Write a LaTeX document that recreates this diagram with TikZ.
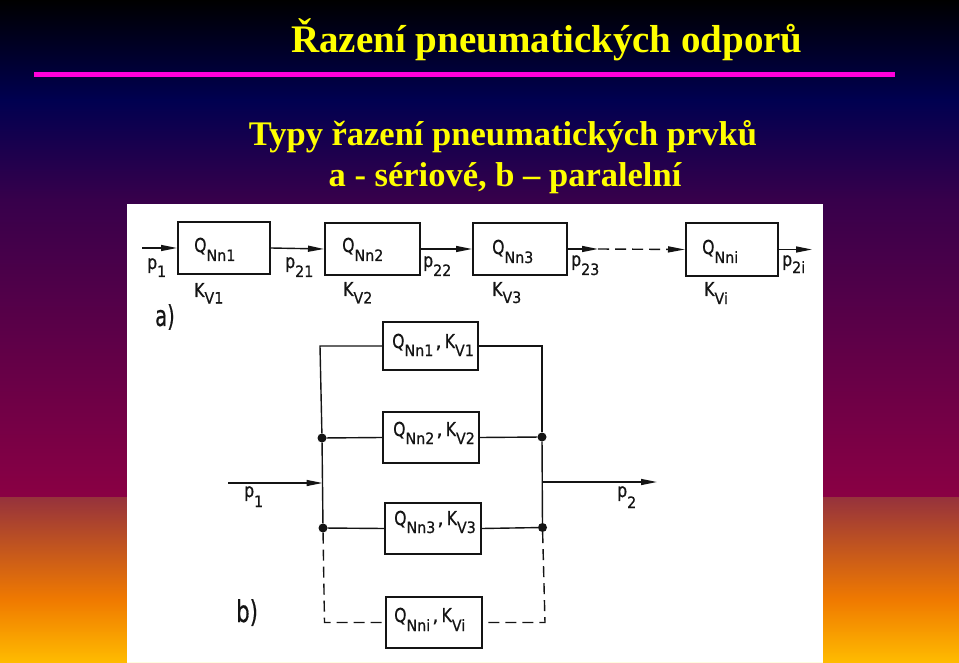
\documentclass[tikz,border=0pt]{standalone}
\usepackage{fontspec}
\usepackage{graphicx}
\setmainfont{Liberation Serif}
\newfontfamily\letterfont[RawFeature={embolden=0.6}]{DejaVu Sans}
\usetikzlibrary{arrows.meta}
\definecolor{inkc}{RGB}{20,20,20}
\definecolor{bgnavy}{RGB}{0,0,80}
\definecolor{bgpurple}{RGB}{55,0,75}
\definecolor{bgcrimson}{RGB}{138,0,68}
\definecolor{bgrust}{RGB}{150,50,60}
\definecolor{bgorange}{RGB}{240,122,0}
\definecolor{bgyellow}{RGB}{255,188,0}
\definecolor{titley}{RGB}{255,255,0}
\definecolor{rulem}{RGB}{255,0,220}
\newcommand{\sy}[3]{\scalebox{.98}[1.2]{\fontsize{16}{16}\selectfont #1}\raisebox{-#3pt}{\scalebox{1.02}[1.12]{\fontsize{14}{14}\selectfont #2}}}
\newcommand{\cm}{\kern2pt{\fontsize{20}{20}\selectfont,}\kern3pt}
\tikzset{
  unitbox/.style={draw=inkc,line width=2pt,fill=white,inner sep=0pt,minimum width=#1},
  unitbox/.default=94pt,
  wire/.style={draw=inkc,line width=1.4pt},
  flow/.style={wire,-{Triangle[length=16pt,width=6pt]}},
  brokenwire/.style={draw=inkc,line width=1.4pt,dash pattern=on 11pt off 6pt},
  junction/.style={circle,fill=inkc,inner sep=0pt,minimum size=9pt},
  lettering/.style={inner sep=0pt,anchor=base west,text=inkc,font=\letterfont},
  bigletter/.style={lettering,font=\letterfont\fontsize{25}{25}\selectfont},
  headline/.style={inner sep=0pt,anchor=base,text=titley,font=\bfseries\fontsize{39}{39}\selectfont},
  subline/.style={inner sep=0pt,anchor=base,text=titley,font=\bfseries\fontsize{34.5}{34.5}\selectfont}
}
\begin{document}
\begin{tikzpicture}[x=1pt,y=-1pt]
\useasboundingbox (0,0) rectangle (959,663);
% background
\fill[top color=black,bottom color=bgnavy] (0,0) rectangle (959,100);
\fill[top color=bgnavy,bottom color=bgpurple] (0,100) rectangle (959,200);
\fill[top color=bgpurple,bottom color=bgcrimson] (0,200) rectangle (959,497);
\fill[top color=bgrust,bottom color=bgorange] (0,497) rectangle (959,600);
\fill[top color=bgorange,bottom color=bgyellow] (0,600) rectangle (959,663);
% headings
\node[headline] (title) at (547,53) {Řazení pneumatických odporů};
\fill[rulem] (34,72) rectangle (895,77);
\node[subline] (line1) at (503,146) {Typy řazení pneumatických prvků};
\node[subline] (line2) at (505,186.5) {a - sériové, b – paralelní};
% scanned sheet
\fill[white] (127,204) rectangle (823,663);
\fill[yellow!12] (127,661.5) rectangle (823,663);
% series
\node[unitbox=92pt,minimum height=52pt] (s1) at (224,248) {};
\node[unitbox=95pt,minimum height=52pt] (s2) at (372.5,249) {};
\node[unitbox=94pt,minimum height=52pt] (s3) at (520,249) {};
\node[unitbox=92pt,minimum height=53pt] (s4) at (732,249.5) {};
\coordinate (sin) at (142,248);
\coordinate (smid) at (598,249);
\coordinate (sout) at (812,249.5);
\draw[flow] (sin) -- (s1.west);
\draw[flow] (s1.east) -- (s2.west);
\draw[flow] (s2.east) -- (s3.west);
\draw[flow] (s3.east) -- (smid);
\draw[brokenwire,-{Triangle[length=17pt,width=6pt]}] (smid) -- (s4.west);
\draw[flow] (s4.east) -- (sout);
\node[lettering] (q1) at (194,252) {\sy{Q}{Nn1}{9}};
\node[lettering] (q2) at (342,252) {\sy{Q}{Nn2}{9}};
\node[lettering] (q3) at (492,254) {\sy{Q}{Nn3}{9}};
\node[lettering] (q4) at (702,254) {\sy{Q}{Nni}{9}};
\node[lettering] (k1) at (194,297) {\sy{K}{V1}{6.5}};
\node[lettering] (k2) at (343,296) {\sy{K}{V2}{7.5}};
\node[lettering] (k3) at (492,296) {\sy{K}{V3}{7}};
\node[lettering] (k4) at (704,296) {\sy{K}{Vi}{8}};
\node[lettering] (p1a) at (147,269) {\sy{p}{1}{8}};
\node[lettering] (p21) at (285,268) {\sy{p}{21}{9}};
\node[lettering] (p22) at (423,267) {\sy{p}{22}{9}};
\node[lettering] (p23) at (571,266) {\sy{p}{23}{9}};
\node[lettering] (p2i) at (782,266) {\sy{p}{2i}{7}};
\node[bigletter] (lba) at (155,326) {\scalebox{.78}[1.15]{a)}};
% parallel
\node[unitbox=95pt,minimum height=48pt] (m1) at (430.5,346) {};
\node[unitbox=96pt,minimum height=51pt] (m2) at (431,437.5) {};
\node[unitbox=96pt,minimum height=51pt] (m3) at (433,528.5) {};
\node[unitbox=96pt,minimum height=51pt] (m4) at (434,622.5) {};
\node[junction] (jl2) at (322,438) {};
\node[junction] (jr2) at (542,437) {};
\node[junction] (jl3) at (323,528) {};
\node[junction] (jr3) at (542.5,527.5) {};
\coordinate (tl) at (320,346);
\coordinate (tr) at (542,346);
\coordinate (bl) at (324.5,622.5);
\coordinate (br) at (545,622.5);
\coordinate (pin) at (228,483);
\coordinate (pinj) at (322.5,483);
\coordinate (poutj) at (543,482);
\coordinate (pout) at (657,482);
\draw[wire] (m1.west) -- (tl) -- (jl2);
\draw[wire] (m1.east) -- (tr) -- (jr2);
\draw[wire] (jl2) -- (m2.west);
\draw[wire] (m2.east) -- (jr2);
\draw[wire] (jl2) -- (jl3);
\draw[wire] (jr2) -- (jr3);
\draw[wire] (jl3) -- (m3.west);
\draw[wire] (m3.east) -- (jr3);
\draw[brokenwire] (jl3) -- (bl) -- (m4.west);
\draw[brokenwire] (jr3) -- (br) -- (m4.east);
\draw[flow] (pin) -- (pinj);
\draw[flow] (poutj) -- (pout);
\node[lettering] (t1) at (392,348) {\sy{Q}{Nn1}{8}\cm\sy{K}{V1}{8}};
\node[lettering] (t2) at (393,436) {\sy{Q}{Nn2}{8}\cm\sy{K}{V2}{8}};
\node[lettering] (t3) at (394,525) {\sy{Q}{Nn3}{8}\cm\sy{K}{V3}{8}};
\node[lettering] (t4) at (394,622) {\sy{Q}{Nni}{9}\cm\sy{K}{Vi}{9}};
\node[lettering] (pb1) at (244,497) {\sy{p}{1}{10}};
\node[lettering] (pb2) at (617,497) {\sy{p}{2}{11}};
\node[bigletter] (lbb) at (236,622) {\scalebox{.85}[1.2]{b)}};
\end{tikzpicture}
\end{document}
